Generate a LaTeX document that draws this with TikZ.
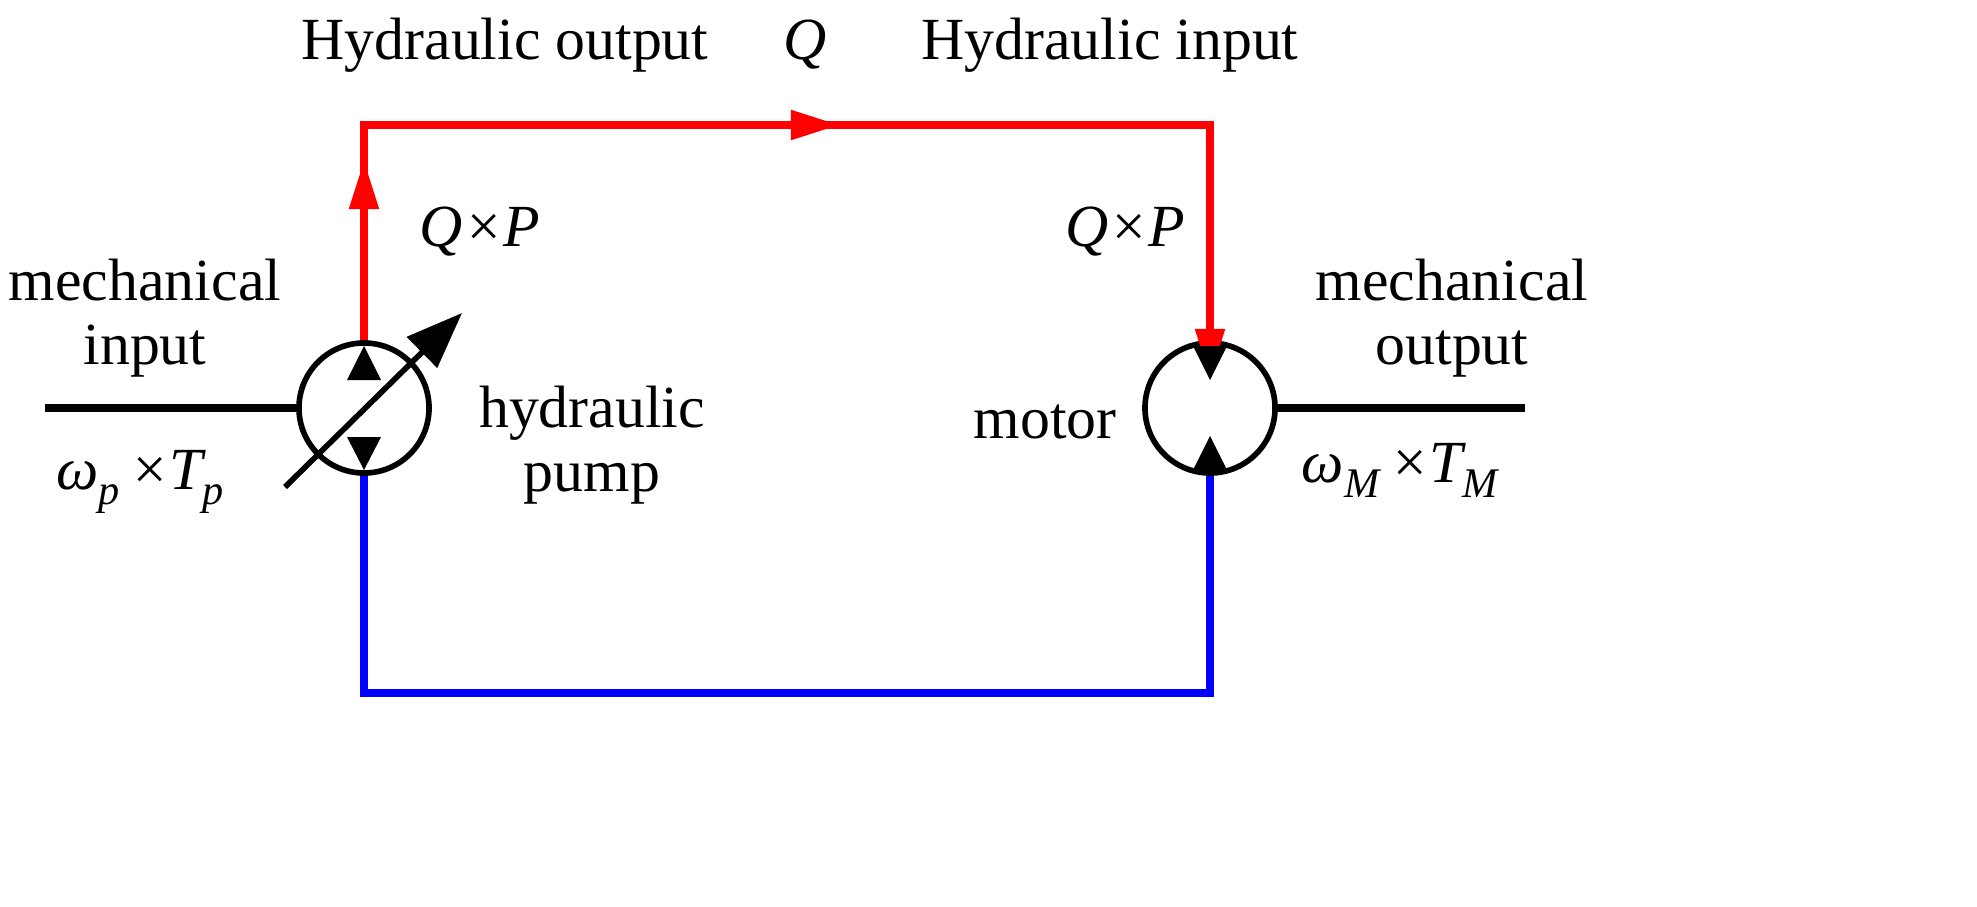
\documentclass[tikz,border=0pt]{standalone}
\usepackage{fontspec}
\setmainfont{Liberation Serif}
\usetikzlibrary{arrows.meta}
\newcommand{\sbx}[1]{\raisebox{-0.25em}{\fontsize{12}{14}\selectfont\itshape #1}}
\begin{document}
\begin{tikzpicture}[x=0.01cm,y=-0.01cm,
  txt/.style={font=\fontsize{17}{20}\selectfont,align=center,inner sep=0},
  red line/.style={draw=red,line width=2.3pt},
  blue line/.style={draw=blue,line width=2.3pt},
  shaft/.style={draw=black,line width=2.3pt},
  tip/.style={-{Triangle[length=14pt,width=8pt]}}]
\useasboundingbox (0,0) rectangle (1977,906);
\node[circle,draw,line width=1.6pt,minimum size=1.3cm,inner sep=0] (pump) at (364,408) {};
\node[circle,draw,line width=1.6pt,minimum size=1.3cm,inner sep=0] (motor) at (1210,408) {};
\coordinate (c1) at (364,125);
\coordinate (c2) at (1210,125);
\coordinate (mid) at (840,125);
\coordinate (b1) at (364,693);
\coordinate (b2) at (1210,693);
\coordinate (pa) at (364,160);
\coordinate (ma) at (1210,378);
\coordinate (lsh) at (45,408);
\coordinate (rsh) at (1525,408);
\draw[red line] (pump.north) -- (c1) -- (c2) -- (1210,343);
\draw[red line,tip,red] (364,300) -- (pa);
\draw[red line,tip,red] (760,125) -- (mid);
\draw[red line,tip,red] (1210,300) -- (ma);
\draw[blue line] (pump.south) -- (b1) -- (b2) -- (motor.south);
\draw[shaft] (lsh) -- (pump.west);
\draw[shaft] (motor.east) -- (rsh);
\fill (364,346) -- (347,380) -- (381,380) -- cycle;
\fill (364,470) -- (347,437) -- (381,437) -- cycle;
\fill (1210,380) -- (1193,346) -- (1227,346) -- cycle;
\fill (1210,436) -- (1193,470) -- (1227,470) -- cycle;
\draw[line width=1.6pt,-{Triangle[length=16pt,width=12pt]}] (285,487) -- (462,313);
\node[txt] (t1) at (505,45) {Hydraulic output};
\node[txt] (t2) at (805,45) {\itshape Q};
\node[txt] (t3) at (1110,45) {Hydraulic input};
\node[txt] (t4) at (480,232) {\itshape Q×P};
\node[txt] (t5) at (1125,232) {\itshape Q×P};
\node[txt] (t6) at (145,318) {mechanical\\[-2pt]input};
\node[txt] (t7) at (140,482) {\itshape ω\sbx{p}\,×T\sbx{p}};
\node[txt] (t8) at (592,445) {hydraulic\\[-2pt]pump};
\node[txt] (t9) at (1045,422) {motor};
\node[txt] (t10) at (1452,318) {mechanical\\[-2pt]output};
\node[txt] (t11) at (1400,470) {\itshape ω\sbx{M}\,×T\sbx{M}};
\end{tikzpicture}
\end{document}
